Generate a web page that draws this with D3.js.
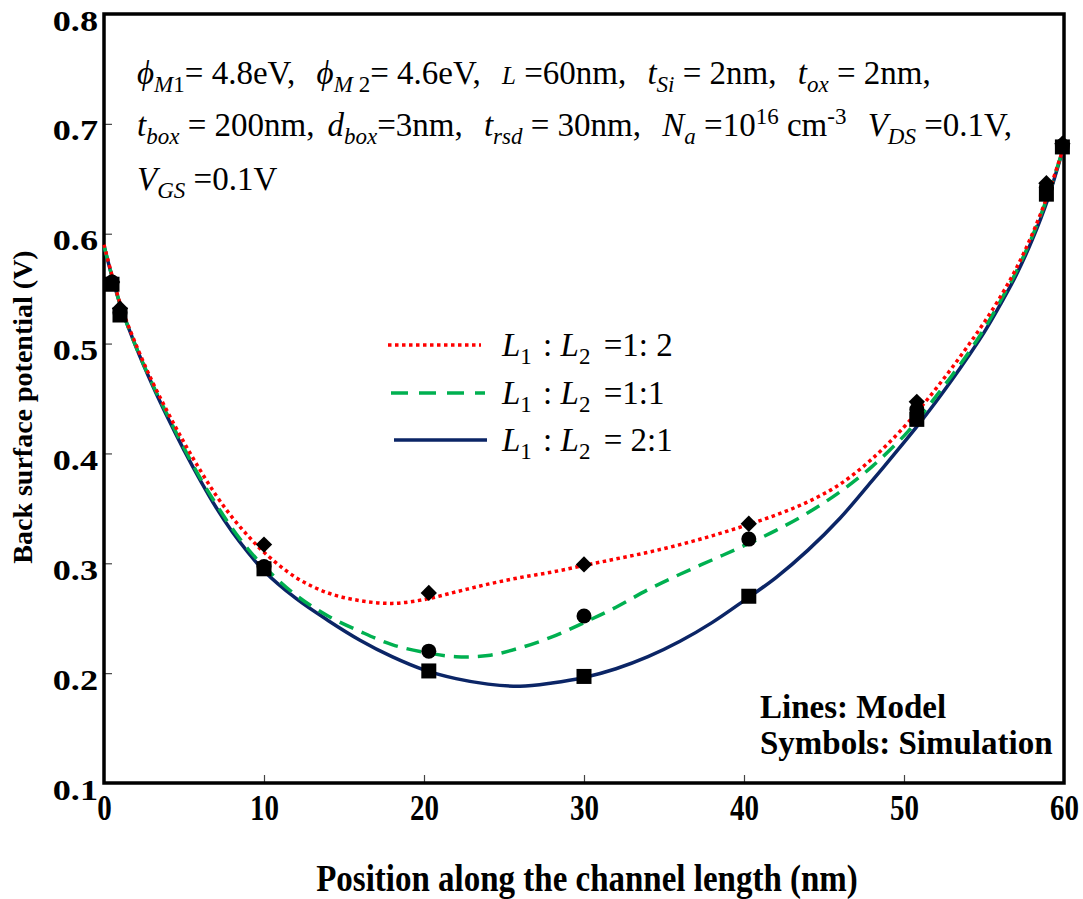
<!DOCTYPE html>
<html>
<head>
<meta charset="utf-8">
<script src="https://cdn.jsdelivr.net/npm/d3@7"></script>
<style>
  body { margin: 0; background: #fff; }
  svg { display: block; }
  text { font-family: "Liberation Serif", "Times New Roman", serif; fill: #000; }
</style>
</head>
<body>
<div class="chart"></div>
<script>
// model curves, sampled along the channel (nm)
const xGrid = [0,1,2,3,4,5,6,7,8,9,10,12,14,16,18,20,22,24,26,28,30,32,34,36,38,40,42,44,46,48,50,51,52,53,54,55,56,57,58,59,60];

const model12 = [0.590,0.537,0.499,0.466,0.437,0.410,0.385,0.362,0.342,0.325,0.310,0.287,0.273,0.266,0.2635,0.267,0.274,0.281,0.287,0.292,0.298,0.304,0.310,0.317,0.325,0.334,0.344,0.356,0.372,0.395,0.424,0.441,0.459,0.478,0.498,0.519,0.542,0.568,0.599,0.636,0.680];
const model11 = [0.589,0.536,0.497,0.464,0.434,0.405,0.378,0.354,0.332,0.313,0.297,0.271,0.252,0.238,0.226,0.219,0.215,0.216,0.223,0.233,0.246,0.260,0.276,0.290,0.303,0.316,0.330,0.346,0.365,0.388,0.416,0.433,0.452,0.471,0.491,0.513,0.538,0.565,0.597,0.635,0.680];
const model21 = [0.589,0.536,0.497,0.463,0.432,0.403,0.376,0.351,0.329,0.310,0.293,0.268,0.248,0.230,0.215,0.203,0.195,0.190,0.188,0.191,0.196,0.204,0.215,0.229,0.246,0.266,0.287,0.312,0.341,0.375,0.410,0.428,0.447,0.467,0.488,0.510,0.535,0.562,0.594,0.632,0.680];

// simulation points
const simX = [0.5, 1, 10, 20.3, 30, 40.3, 50.8, 58.9, 59.9];
const sim12 = [0.556, 0.532, 0.317, 0.273, 0.299, 0.336, 0.447, 0.646, 0.682]; // diamonds
const sim11 = [0.556, 0.528, 0.297, 0.220, 0.252, 0.322, 0.440, 0.642, 0.680]; // circles
const sim21 = [0.554, 0.526, 0.295, 0.202, 0.197, 0.270, 0.431, 0.636, 0.679]; // squares

const xTicks = [0, 10, 20, 30, 40, 50, 60];
const yTicks = [0.1, 0.2, 0.3, 0.4, 0.5, 0.6, 0.7, 0.8];

const width = 1083, height = 899;

const svg = d3.select('.chart')
  .append('svg')
  .attr('width', width)
  .attr('height', height);

let x = d3.scaleLinear().domain([0, 60]).range([104, 1064]);
let y = d3.scaleLinear().domain([0.1, 0.8]).range([783, 14]);

// axes, ticks inward
const gx = svg.append('g')
  .attr('transform', 'translate(0,' + y(0.1) + ')')
  .call(d3.axisBottom(x).tickValues(xTicks).tickSize(-8).tickPadding(0).tickFormat(d3.format('d')));

gx.select('.domain').remove();
gx.selectAll('line').attr('stroke', '#444').attr('stroke-width', 1.2);
gx.selectAll('text')
  .attr('y', 0)
  .attr('dy', 0)
  .attr('transform', 'translate(0,37) scale(1,1.2)')
  .style('font-size', '29px')
  .style('font-weight', 'bold');

const gy = svg.append('g')
  .attr('transform', 'translate(' + x(0) + ',0)')
  .call(d3.axisLeft(y).tickValues(yTicks).tickSize(-8).tickPadding(0).tickFormat(d3.format('.1f')));

gy.select('.domain').remove();
gy.selectAll('line').attr('stroke', '#444').attr('stroke-width', 1.2);
gy.selectAll('text')
  .attr('x', 0)
  .attr('dy', 0)
  .attr('transform', 'translate(-6,16) scale(1.25,1)')
  .style('font-size', '29px')
  .style('font-weight', 'bold');

// hide inner ticks at frame ends
gx.selectAll('.tick').filter(d => d === 0 || d === 60).select('line').remove();
gy.selectAll('.tick').filter(d => d === 0.1 || d === 0.8).select('line').remove();

// frame
svg.append('rect')
  .attr('x', x(0))
  .attr('y', y(0.8))
  .attr('width', x(60) - x(0))
  .attr('height', y(0.1) - y(0.8))
  .attr('fill', 'none')
  .attr('stroke', '#000')
  .attr('stroke-width', 3.5);

const line = d3.line()
  .x(d => x(d[0]))
  .y(d => y(d[1]))
  .curve(d3.curveCatmullRom.alpha(0.5));

const series = [
  { vals: model21, color: '#0b2566', dash: null },
  { vals: model11, color: '#00b050', dash: '15,9' },
  { vals: model12, color: '#ff0000', dash: '3.5,3.5' }
];

series.forEach(s => {
  svg.append('path')
    .datum(xGrid.map((d, i) => [d, s.vals[i]]))
    .attr('d', line)
    .attr('fill', 'none')
    .attr('stroke', s.color)
    .attr('stroke-width', 3.5)
    .attr('stroke-dasharray', s.dash);
});

// symbols
const marks = svg.append('g');

marks.selectAll('.sq')
  .data(simX.map((d, i) => [d, sim21[i]]))
  .enter()
  .append('rect')
  .attr('class', 'sq')
  .attr('x', d => x(d[0]) - 7.5)
  .attr('y', d => y(d[1]) - 7.5)
  .attr('width', 15)
  .attr('height', 15)
  .attr('fill', '#000');

marks.selectAll('.ci')
  .data(simX.map((d, i) => [d, sim11[i]]))
  .enter()
  .append('circle')
  .attr('class', 'ci')
  .attr('cx', d => x(d[0]))
  .attr('cy', d => y(d[1]))
  .attr('r', 7.5)
  .attr('fill', '#000');

marks.selectAll('.di')
  .data(simX.map((d, i) => [d, sim12[i]]))
  .enter()
  .append('path')
  .attr('class', 'di')
  .attr('d', d3.symbol().type(d3.symbolDiamond2).size(170))
  .attr('transform', d => 'translate(' + x(d[0]) + ',' + y(d[1]) + ')')
  .attr('fill', '#000');

// legend
const legendItems = [
  { color: '#ff0000', dash: '3.5,3.5', x1: 388, x2: 481, yy: 345, rest: ' =1: 2' },
  { color: '#00b050', dash: '17,11', x1: 391, x2: 485, yy: 393, rest: ' =1:1' },
  { color: '#0b2566', dash: null, x1: 394, x2: 487, yy: 440, rest: ' = 2:1' }
];

legendItems.forEach(l => {
  svg.append('line')
    .attr('x1', l.x1).attr('x2', l.x2)
    .attr('y1', l.yy).attr('y2', l.yy)
    .attr('stroke', l.color)
    .attr('stroke-width', 3.5)
    .attr('stroke-dasharray', l.dash);

  const t = svg.append('text')
    .attr('x', 502)
    .attr('y', l.yy + 11)
    .style('font-size', '33px');
  t.append('tspan').style('font-style', 'italic').text('L');
  t.append('tspan').attr('dy', 8).style('font-size', '23px').text('1');
  t.append('tspan').attr('dy', -8).attr('dx', 3).text(' : ');
  t.append('tspan').style('font-style', 'italic').text('L');
  t.append('tspan').attr('dy', 8).style('font-size', '23px').text('2');
  t.append('tspan').attr('dy', -8).attr('dx', 5).text(l.rest);
});

// parameter block, one text per line, terms separated by a gap
const fs = 33, sub = 23, gap = 13;
const addLine = (yy, parts) => {
  const t = svg.append('text').attr('x', 137).attr('y', yy).style('font-size', fs + 'px');
  parts.forEach(p => {
    const ts = t.append('tspan').text(p.t);
    if (p.i) ts.style('font-style', 'italic');
    if (p.sub) ts.style('font-size', sub + 'px');
    if (p.dy) ts.attr('dy', p.dy);
    if (p.g) ts.attr('dx', gap);
    if (p.fs) ts.style('font-size', p.fs + 'px');
  });
};

addLine(84, [
  { t: 'ϕ', i: 1 }, { t: 'M', i: 1, sub: 1, dy: 8 }, { t: '1', sub: 1 }, { t: '= 4.8eV,  ', dy: -8 },
  { t: 'ϕ', i: 1, g: 1 }, { t: 'M', i: 1, sub: 1, dy: 8 }, { t: ' 2', sub: 1 }, { t: '= 4.6eV,  ', dy: -8 },
  { t: 'L', i: 1, fs: 25, g: 1 }, { t: ' =60nm,  ' },
  { t: 't', i: 1, g: 1 }, { t: 'Si', i: 1, sub: 1, dy: 8 }, { t: ' = 2nm,  ', dy: -8 },
  { t: 't', i: 1, g: 1 }, { t: 'ox', i: 1, sub: 1, dy: 8 }, { t: ' = 2nm,', dy: -8 }
]);

addLine(136, [
  { t: 't', i: 1 }, { t: 'box', i: 1, sub: 1, dy: 8 }, { t: '  = 200nm,', dy: -8 },
  { t: 'd', i: 1, g: 1 }, { t: 'box', i: 1, sub: 1, dy: 8 }, { t: '=3nm,  ', dy: -8 },
  { t: 't', i: 1, g: 1 }, { t: 'rsd', i: 1, sub: 1, dy: 8 }, { t: '  = 30nm,  ', dy: -8 },
  { t: 'N', i: 1, g: 1 }, { t: 'a', i: 1, sub: 1, dy: 8 }, { t: '  =10', dy: -8 },
  { t: '16', sub: 1, dy: -12 }, { t: ' cm', dy: 12 }, { t: '-3', sub: 1, dy: -12 }, { t: ' ', dy: 12 },
  { t: 'V', i: 1, g: 1 }, { t: 'DS', i: 1, sub: 1, dy: 8 }, { t: ' =0.1V,', dy: -8 }
]);

addLine(190, [
  { t: 'V', i: 1 }, { t: 'GS', i: 1, sub: 1, dy: 8 }, { t: ' =0.1V', dy: -8 }
]);

// notes
svg.append('text').attr('x', 760).attr('y', 718)
  .style('font-size', '33px').style('font-weight', 'bold').text('Lines: Model');
svg.append('text').attr('x', 760).attr('y', 754)
  .style('font-size', '33px').style('font-weight', 'bold').text('Symbols: Simulation');

// axis titles
svg.append('text')
  .attr('x', 587).attr('y', 891)
  .attr('text-anchor', 'middle')
  .attr('transform', 'translate(587,891) scale(1,1.15) translate(-587,-891)')
  .style('font-size', '33px').style('font-weight', 'bold')
  .text('Position along the channel length (nm)');

svg.append('text')
  .attr('transform', 'translate(32,407) rotate(-90)')
  .attr('text-anchor', 'middle')
  .style('font-size', '28px').style('font-weight', 'bold')
  .text('Back surface potential (V)');
</script>
</body>
</html>
